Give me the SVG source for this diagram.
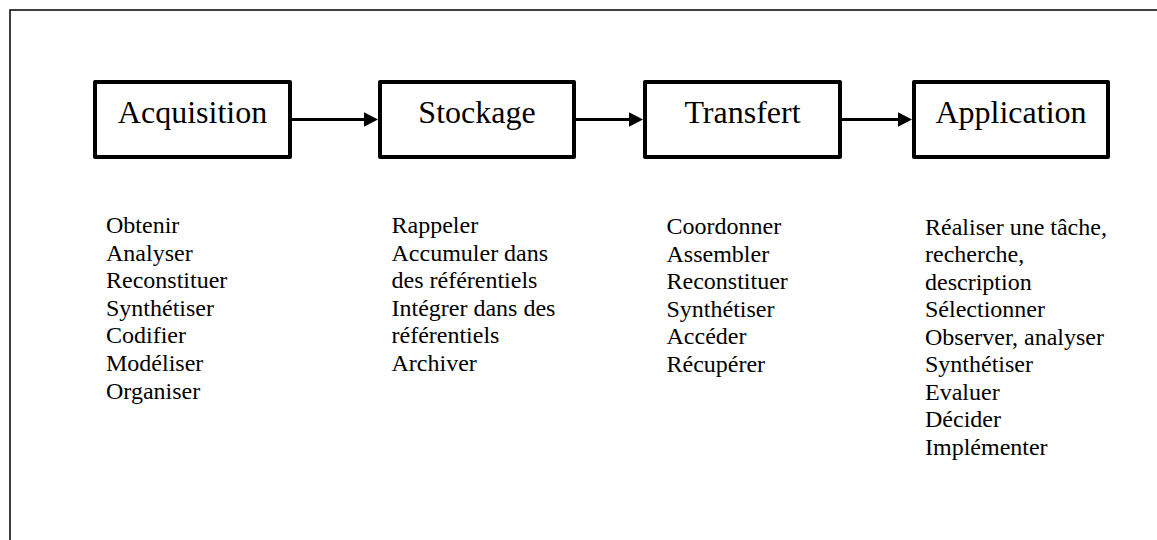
<svg xmlns="http://www.w3.org/2000/svg" width="1157" height="540" viewBox="0 0 1157 540">
  <style>
    .frame { fill: none; stroke: #000; stroke-width: 1.5; }
    .box { fill: #fff; stroke: #000; stroke-width: 4; stroke-linejoin: round; }
    .title { font-family: "Liberation Serif", "Times New Roman", serif; font-size: 32px; fill: #000; text-anchor: middle; }
    .list { font-family: "Liberation Serif", "Times New Roman", serif; font-size: 24px; fill: #000; }
    .link { stroke: #000; stroke-width: 3; fill: none; }
    .head { fill: #000; }
  </style>

  <rect width="1157" height="540" fill="#fff"/>

  <!-- outer frame: top and left edges -->
  <path class="frame" d="M10,541 V10 H1158"/>

  <!-- connectors -->
  <g id="connectors">
    <line class="link" x1="292" y1="119.5" x2="366" y2="119.5"/>
    <polygon class="head" points="364,112.3 378,119.5 364,126.7"/>
    <line class="link" x1="576" y1="119.5" x2="631" y2="119.5"/>
    <polygon class="head" points="629,112.3 643,119.5 629,126.7"/>
    <line class="link" x1="842" y1="119.5" x2="900" y2="119.5"/>
    <polygon class="head" points="898,112.3 912,119.5 898,126.7"/>
  </g>

  <g id="acquisition">
    <rect class="box" x="95" y="82" width="195" height="75"/>
    <text class="title" x="192.5" y="123">Acquisition</text>
    <text class="list" x="106" y="233">
      <tspan x="106">Obtenir</tspan>
      <tspan x="106" dy="27.6">Analyser</tspan>
      <tspan x="106" dy="27.6">Reconstituer</tspan>
      <tspan x="106" dy="27.6">Synthétiser</tspan>
      <tspan x="106" dy="27.6">Codifier</tspan>
      <tspan x="106" dy="27.6">Modéliser</tspan>
      <tspan x="106" dy="27.6">Organiser</tspan>
    </text>
  </g>

  <g id="stockage">
    <rect class="box" x="380" y="82" width="194" height="75"/>
    <text class="title" x="477" y="123">Stockage</text>
    <text class="list" x="391.5" y="233">
      <tspan x="391.5">Rappeler</tspan>
      <tspan x="391.5" dy="27.6">Accumuler dans</tspan>
      <tspan x="391.5" dy="27.6">des référentiels</tspan>
      <tspan x="391.5" dy="27.6">Intégrer dans des</tspan>
      <tspan x="391.5" dy="27.6">référentiels</tspan>
      <tspan x="391.5" dy="27.6">Archiver</tspan>
    </text>
  </g>

  <g id="transfert">
    <rect class="box" x="645" y="82" width="195" height="75"/>
    <text class="title" x="742.5" y="123">Transfert</text>
    <text class="list" x="666.5" y="234">
      <tspan x="666.5">Coordonner</tspan>
      <tspan x="666.5" dy="27.5">Assembler</tspan>
      <tspan x="666.5" dy="27.5">Reconstituer</tspan>
      <tspan x="666.5" dy="27.5">Synthétiser</tspan>
      <tspan x="666.5" dy="27.5">Accéder</tspan>
      <tspan x="666.5" dy="27.5">Récupérer</tspan>
    </text>
  </g>

  <g id="application">
    <rect class="box" x="914" y="82" width="194" height="75"/>
    <text class="title" x="1011" y="123">Application</text>
    <text class="list" x="925" y="234.5">
      <tspan x="925">Réaliser une tâche,</tspan>
      <tspan x="925" dy="27.5">recherche,</tspan>
      <tspan x="925" dy="27.5">description</tspan>
      <tspan x="925" dy="27.5">Sélectionner</tspan>
      <tspan x="925" dy="27.5">Observer, analyser</tspan>
      <tspan x="925" dy="27.5">Synthétiser</tspan>
      <tspan x="925" dy="27.5">Evaluer</tspan>
      <tspan x="925" dy="27.5">Décider</tspan>
      <tspan x="925" dy="27.5">Implémenter</tspan>
    </text>
  </g>
</svg>
